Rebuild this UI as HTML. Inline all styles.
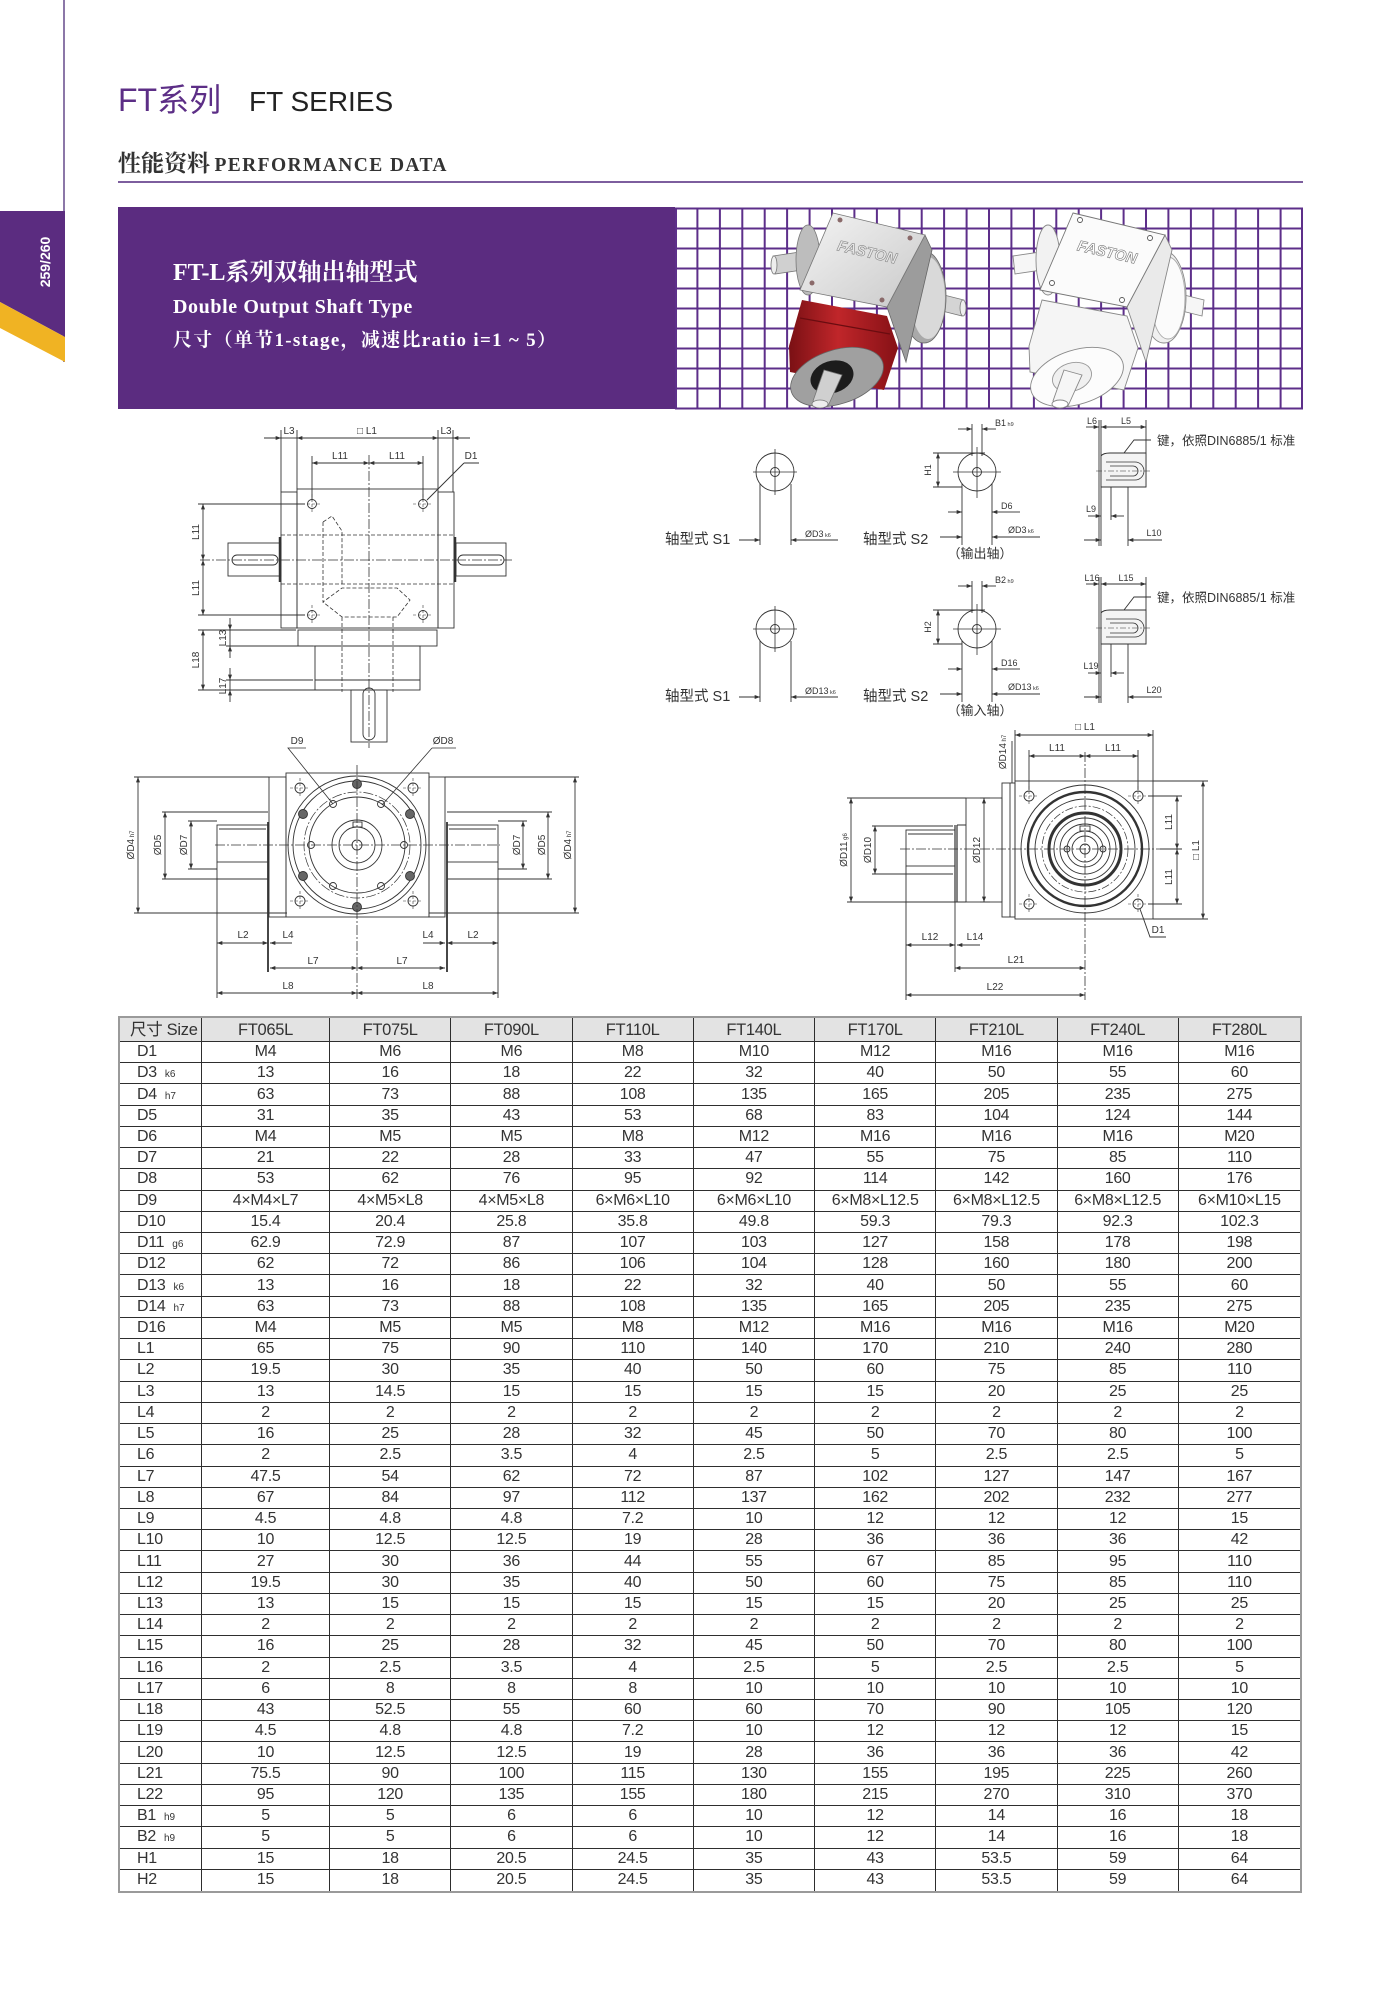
<!DOCTYPE html>
<html><head><meta charset="utf-8">
<style>
html,body{margin:0;padding:0;background:#fff;}
body{width:1400px;height:1992px;position:relative;overflow:hidden;font-family:"Liberation Sans","Noto Sans CJK SC",sans-serif;}
.abs{position:absolute;}
#t{position:absolute;left:118px;top:1016px;width:1184px;height:877px;box-sizing:border-box;border:2px solid #9a9a9a;display:grid;grid-template-columns:82px 128px repeat(8,1fr);grid-template-rows:24px repeat(40,1fr);}
#t div{box-sizing:border-box;border-right:1px solid #2e2e2e;border-bottom:1px solid #2e2e2e;display:flex;align-items:center;justify-content:center;font-size:16px;line-height:16px;color:#333;white-space:nowrap;letter-spacing:-0.3px;font-family:"Liberation Sans","Noto Sans CJK SC",sans-serif;}
#t div:nth-child(10n){border-right:none;}
#t div:nth-last-child(-n+10){border-bottom:none;}
#t div.l{justify-content:flex-start;padding-left:17px;}
#t div.h{background:#e3e3e3;font-size:16.5px;}
#t div.h.l{padding-left:10px;}
#t small{font-size:10px;margin-left:8px;margin-top:4px;letter-spacing:0;}
</style></head><body>

<!-- left vertical line and tab -->
<div class="abs" style="left:63px;top:0;width:2px;height:362px;background:#8c77a8;"></div>
<svg class="abs" style="left:0;top:0" width="70" height="370">
<polygon points="0,211 65,211 65,337 0,302" fill="#5b2c80"/>
<polygon points="0,302 65,337 65,362 0,328" fill="#f0b323"/>
<text transform="translate(50,262) rotate(-90)" text-anchor="middle" font-family="Liberation Sans, sans-serif" font-weight="bold" font-size="14" fill="#fff">259/260</text>
</svg>

<!-- header -->
<div class="abs" style="left:118px;top:80px;font-size:32px;line-height:40px;color:#5c2e86;font-family:'Liberation Sans','Noto Sans CJK SC',sans-serif;">FT系列</div>
<div class="abs" style="left:249px;top:84px;font-size:28px;line-height:36px;color:#222;font-family:'Liberation Sans',sans-serif;">FT SERIES</div>
<div class="abs" style="left:118px;top:148px;line-height:28px;color:#333;white-space:nowrap;"><span style="font-family:'Noto Serif CJK SC','Noto Sans CJK SC',serif;font-weight:bold;font-size:23px;">性能资料</span> <span style="font-family:'Liberation Serif',serif;font-weight:bold;font-size:19.5px;letter-spacing:1.4px;">PERFORMANCE DATA</span></div>
<div class="abs" style="left:118px;top:181px;width:1185px;height:2px;background:#7d5e9e;"></div>

<!-- banner -->
<div class="abs" style="left:118px;top:207px;width:557px;height:202px;background:#5b2c80;"></div>
<div class="abs" style="left:173px;top:258px;color:#fff;font-family:'Liberation Serif','Noto Serif CJK SC',serif;font-weight:bold;font-size:24px;line-height:30px;white-space:nowrap;">FT-L系列双轴出轴型式</div>
<div class="abs" style="left:173px;top:295px;color:#fff;font-family:'Liberation Serif',serif;font-weight:bold;font-size:20px;letter-spacing:0.6px;line-height:24px;white-space:nowrap;">Double Output Shaft Type</div>
<div class="abs" style="left:173px;top:329px;color:#fff;font-family:'Liberation Serif','Noto Serif CJK SC',serif;font-weight:bold;font-size:19px;letter-spacing:1.3px;line-height:24px;white-space:nowrap;">尺寸（单节1-stage，减速比ratio i=1 ~ 5）</div>

<svg class="abs" style="left:0;top:0" width="1400" height="1010" viewBox="0 0 1400 1010">
<defs>
<marker id="a" viewBox="0 0 8 6" refX="8" refY="3" markerWidth="7" markerHeight="4" markerUnits="userSpaceOnUse" orient="auto-start-reverse"><path d="M0,0L8,3L0,6z" fill="#333"/></marker>
<linearGradient id="gf" x1="0" y1="0" x2="1" y2="1"><stop offset="0" stop-color="#f4f4f4"/><stop offset="1" stop-color="#c9c9c9"/></linearGradient>
<linearGradient id="rd" x1="0" y1="0" x2="1" y2="0"><stop offset="0" stop-color="#7a1014"/><stop offset="0.45" stop-color="#c0262a"/><stop offset="1" stop-color="#861116"/></linearGradient>
</defs>

<!-- grid -->
<rect x="675" y="208" width="628" height="201" fill="#fff"/>
<g stroke="#5d2f8a" stroke-width="2" fill="none">
<path d="M675,208.5H1303M675,228.5H1303M675,248.5H1303M675,268.5H1303M675,288.5H1303M675,308.5H1303M675,328.5H1303M675,348.5H1303M675,368.5H1303M675,388.5H1303M675,408.5H1303"/>
<path d="M676,208V409M697.4,208V409M719.9,208V409M742.3,208V409M764.7,208V409M787.1,208V409M809.6,208V409M832,208V409M854.4,208V409M876.9,208V409M899.3,208V409M921.7,208V409M944.1,208V409M966.6,208V409M989,208V409M1011.4,208V409M1033.9,208V409M1056.3,208V409M1078.7,208V409M1101.1,208V409M1123.6,208V409M1146,208V409M1168.4,208V409M1190.9,208V409M1213.3,208V409M1235.7,208V409M1258.1,208V409M1280.6,208V409M1302,208V409"/>
</g>

<!-- red gearbox -->
<g stroke-width="0.8">
<polygon points="928,291 964,300 962,316 926,307" fill="#d4d4d4" stroke="#777"/>
<ellipse cx="963" cy="308" rx="3" ry="8" fill="#eee" stroke="#777"/>
<ellipse cx="924" cy="297" rx="22" ry="46" fill="#a9a9a9" stroke="#666"/>
<ellipse cx="928" cy="298" rx="17" ry="41" fill="#d9d9d9"/>
<polygon points="773,256 800,252 802,270 775,274" fill="#d0d0d0" stroke="#777"/>
<ellipse cx="774" cy="265" rx="3" ry="9" fill="#eee" stroke="#777"/>
<ellipse cx="808" cy="260" rx="12" ry="35" fill="#bdbdbd" stroke="#777"/>
<polygon points="925,235 932,250 906,362 887,307" fill="#9c9c9c" stroke="#666"/>
<polygon points="833,213 925,235 887,307 800,290" fill="url(#gf)" stroke="#777"/>
<text transform="translate(866,257) rotate(13)" text-anchor="middle" font-family="Liberation Sans, sans-serif" font-weight="bold" font-style="italic" font-size="15" fill="#e8e8e8" stroke="#888" stroke-width="0.6">FASTON</text>
<circle cx="840" cy="220" r="2.5" fill="#8a6a6a"/><circle cx="910" cy="238" r="2.5" fill="#8a6a6a"/><circle cx="812" cy="283" r="2.5" fill="#8a6a6a"/><circle cx="882" cy="300" r="2.5" fill="#8a6a6a"/>
<path d="M802,300 L887,316 L898,348 L884,390 L790,372 L789,346 Z" fill="url(#rd)"/>
<path d="M800,318 L890,334" stroke="#6a0c10" stroke-width="1.2" fill="none"/>
<ellipse cx="837" cy="377" rx="48" ry="27" transform="rotate(-18 837 377)" fill="#a0a0a0" stroke="#666"/>
<ellipse cx="832" cy="377" rx="22" ry="16" transform="rotate(-18 832 377)" fill="#1c1c1c"/>
<polygon points="824,370 842,375 828,406 813,401" fill="#d0d0d0" stroke="#777"/>
<ellipse cx="820" cy="404" rx="8" ry="4" fill="#eee" stroke="#777"/>
</g>
<!-- white gearbox -->
<g stroke-width="0.9" transform="translate(240,0)">
<polygon points="928,291 964,300 962,316 926,307" fill="#f6f6f6" stroke="#888"/>
<ellipse cx="924" cy="297" rx="22" ry="46" fill="#f0f0f0" stroke="#888"/>
<ellipse cx="928" cy="298" rx="17" ry="41" fill="#fbfbfb" stroke="#aaa"/>
<polygon points="773,256 800,252 802,270 775,274" fill="#f6f6f6" stroke="#888"/>
<ellipse cx="808" cy="260" rx="12" ry="35" fill="#f2f2f2" stroke="#888"/>
<polygon points="925,235 932,250 906,362 887,307" fill="#eaeaea" stroke="#888"/>
<polygon points="833,213 925,235 887,307 800,290" fill="#fbfbfb" stroke="#777"/>
<text transform="translate(866,257) rotate(13)" text-anchor="middle" font-family="Liberation Sans, sans-serif" font-weight="bold" font-style="italic" font-size="15" fill="#fff" stroke="#777" stroke-width="0.6">FASTON</text>
<circle cx="840" cy="220" r="2.5" fill="#fff" stroke="#555"/><circle cx="910" cy="238" r="2.5" fill="#fff" stroke="#555"/><circle cx="812" cy="283" r="2.5" fill="#fff" stroke="#555"/><circle cx="882" cy="300" r="2.5" fill="#fff" stroke="#555"/>
<path d="M802,300 L887,316 L898,348 L884,390 L790,372 L789,346 Z" fill="#f5f5f5" stroke="#888"/>
<ellipse cx="837" cy="377" rx="48" ry="27" transform="rotate(-18 837 377)" fill="#fcfcfc" stroke="#888"/>
<ellipse cx="832" cy="377" rx="20" ry="14" transform="rotate(-18 832 377)" fill="#f0f0f0" stroke="#999"/>
<polygon points="824,370 842,375 828,406 813,401" fill="#f6f6f6" stroke="#888"/>
<ellipse cx="820" cy="404" rx="8" ry="4" fill="#fff" stroke="#888"/>
</g>

<g stroke="#333" stroke-width="0.9" fill="none">
<!-- ===== top-left view ===== -->
<path d="M281,430V492M297,430V489M438,430V489M453,430V492"/>
<line x1="264" y1="438" x2="281" y2="438" marker-end="url(#a)"/>
<line x1="281" y1="438" x2="297" y2="438"/>
<line x1="297" y1="438" x2="438" y2="438" marker-start="url(#a)" marker-end="url(#a)"/>
<line x1="438" y1="438" x2="453" y2="438"/>
<line x1="470" y1="438" x2="453" y2="438" marker-end="url(#a)"/>
<path d="M312,456V500M423,456V500"/>
<line x1="312" y1="463" x2="369" y2="463" marker-start="url(#a)" marker-end="url(#a)"/>
<line x1="369" y1="463" x2="423" y2="463" marker-start="url(#a)" marker-end="url(#a)"/>
<path d="M464,463H479M464,463L427,500"/>
<rect x="297" y="489" width="141" height="139"/>
<rect x="281" y="492" width="16" height="136"/>
<rect x="438" y="492" width="16" height="136"/>
<path d="M280,537V582M455,537V582" stroke-width="2.5"/>
<rect x="228" y="543" width="53" height="33"/>
<rect x="456" y="543" width="50" height="33"/>
<rect x="232" y="555" width="46" height="10" rx="5"/>
<rect x="458" y="555" width="46" height="10" rx="5"/>
<path d="M200,560H512M369,455V748" stroke-dasharray="10 2 2 2" stroke-width="0.8"/>
<path d="M281,535H454M281,584H454M323,522L332,516L342,531V584M323,522V602L342,588H397L410,600L397,617H342L323,602M342,617V692M393,617V692" stroke-dasharray="4 2" stroke-width="0.8"/>
<circle cx="312" cy="504" r="4.5"/><circle cx="423" cy="504" r="4.5"/><circle cx="312" cy="615" r="4.5"/><circle cx="423" cy="615" r="4.5"/>
<path d="M302,504H322M312,494V514M413,504H433M423,494V514M302,615H322M312,605V625M413,615H433M423,605V625" stroke-width="0.6" stroke-dasharray="3 2"/>
<rect x="298" y="630" width="139" height="16"/>
<rect x="315" y="646" width="105" height="44"/>
<path d="M315,680H420"/>
<rect x="351" y="690" width="36" height="52"/>
<rect x="363" y="688" width="12" height="52" rx="6"/>
<path d="M198,504H305M198,615H305M198,630H296M226,646H313M226,680H313M198,690H340"/>
<line x1="203" y1="504" x2="203" y2="560" marker-start="url(#a)" marker-end="url(#a)"/>
<line x1="203" y1="560" x2="203" y2="615" marker-start="url(#a)" marker-end="url(#a)"/>
<line x1="203" y1="630" x2="203" y2="690" marker-start="url(#a)" marker-end="url(#a)"/>
<line x1="230" y1="618" x2="230" y2="630" marker-end="url(#a)"/>
<line x1="230" y1="630" x2="230" y2="646"/>
<line x1="230" y1="658" x2="230" y2="646" marker-end="url(#a)"/>
<line x1="230" y1="668" x2="230" y2="680" marker-end="url(#a)"/>
<line x1="230" y1="680" x2="230" y2="690"/>
<line x1="230" y1="702" x2="230" y2="690" marker-end="url(#a)"/>

<!-- ===== bottom-left view ===== -->
<path d="M306,748H288L333,804M432,748H456M432,748L382,805" stroke-width="0.8"/>
<rect x="286" y="773" width="143" height="144"/>
<rect x="269" y="777" width="17" height="140"/>
<rect x="429" y="777" width="16" height="140"/>
<rect x="217" y="825" width="51" height="37"/>
<path d="M219,829H266M449,829H496"/>
<rect x="447" y="825" width="51" height="37"/>
<path d="M268,822V972M447,822V972" stroke-width="1.8"/>
<circle cx="357" cy="845" r="69"/>
<circle cx="357" cy="845" r="64"/>
<circle cx="357" cy="845" r="53" stroke-dasharray="10 2 2 2" stroke-width="0.7"/>
<circle cx="357" cy="845" r="48"/>
<circle cx="357" cy="845" r="25"/>
<circle cx="357" cy="845" r="18"/>
<circle cx="357" cy="845" r="5"/>
<rect x="353" y="822" width="9" height="5"/>
<g fill="#666"><circle cx="357" cy="784" r="4.5"/><circle cx="303" cy="814" r="4.5"/><circle cx="410" cy="814" r="4.5"/><circle cx="303" cy="876" r="4.5"/><circle cx="410" cy="876" r="4.5"/><circle cx="357" cy="907" r="4.5"/></g>
<circle cx="333" cy="804" r="3.5"/><circle cx="381" cy="804" r="3.5"/><circle cx="311" cy="845" r="3.5"/><circle cx="404" cy="845" r="3.5"/><circle cx="333" cy="886" r="3.5"/><circle cx="381" cy="886" r="3.5"/>
<circle cx="300" cy="788" r="5"/><circle cx="413" cy="788" r="5"/><circle cx="300" cy="901" r="5"/><circle cx="413" cy="901" r="5"/>
<path d="M290,788H310M300,778V798M403,788H423M413,778V798M290,901H310M300,891V911M403,901H423M413,891V911" stroke-width="0.6" stroke-dasharray="3 2"/>
<path d="M215,845H500M357,765V1000" stroke-dasharray="10 2 2 2" stroke-width="0.8"/>
<path d="M134,777H269M134,913H287M162,812H268M162,879H268M188,821H217M188,869H217M445,777H579M429,913H579M447,812H552M447,879H552M498,821H527M498,869H527"/>
<line x1="138" y1="777" x2="138" y2="913" marker-start="url(#a)" marker-end="url(#a)"/>
<line x1="165" y1="812" x2="165" y2="879" marker-start="url(#a)" marker-end="url(#a)"/>
<line x1="191" y1="821" x2="191" y2="869" marker-start="url(#a)" marker-end="url(#a)"/>
<line x1="575" y1="777" x2="575" y2="913" marker-start="url(#a)" marker-end="url(#a)"/>
<line x1="548" y1="812" x2="548" y2="879" marker-start="url(#a)" marker-end="url(#a)"/>
<line x1="523" y1="821" x2="523" y2="869" marker-start="url(#a)" marker-end="url(#a)"/>
<path d="M217,862V998M498,862V998"/>
<line x1="217" y1="943" x2="268" y2="943" marker-start="url(#a)" marker-end="url(#a)"/>
<line x1="292" y1="943" x2="270" y2="943" marker-end="url(#a)"/>
<line x1="423" y1="943" x2="445" y2="943" marker-end="url(#a)"/>
<line x1="447" y1="943" x2="498" y2="943" marker-start="url(#a)" marker-end="url(#a)"/>
<line x1="270" y1="968" x2="357" y2="968" marker-start="url(#a)" marker-end="url(#a)"/>
<line x1="357" y1="968" x2="445" y2="968" marker-start="url(#a)" marker-end="url(#a)"/>
<line x1="217" y1="993" x2="357" y2="993" marker-start="url(#a)" marker-end="url(#a)"/>
<line x1="357" y1="993" x2="498" y2="993" marker-start="url(#a)" marker-end="url(#a)"/>

<!-- ===== right small views (upper) ===== -->
<g>
<circle cx="775" cy="472" r="19"/><circle cx="775" cy="472" r="4.5"/>
<path d="M753,472H797M775,449V495" stroke-width="0.8"/>
<path d="M760,484V545M791,484V545"/>
<line x1="739" y1="540" x2="760" y2="540" marker-end="url(#a)"/>
<line x1="812" y1="540" x2="791" y2="540" marker-end="url(#a)"/>
<path d="M812,540H838"/>
</g>
<g>
<circle cx="977" cy="472" r="19"/><circle cx="977" cy="472" r="4.5"/>
<path d="M953,472H1001M977,447V498" stroke-width="0.8"/>
<path d="M972,424V456M982,424V456M972,453H982"/>
<line x1="958" y1="429" x2="972" y2="429" marker-end="url(#a)"/>
<line x1="996" y1="429" x2="982" y2="429" marker-end="url(#a)"/>
<path d="M933,453H985M933,487H962"/>
<line x1="938" y1="453" x2="938" y2="487" marker-start="url(#a)" marker-end="url(#a)"/>
<path d="M962,484V545M992,484V545"/>
<line x1="948" y1="512" x2="962" y2="512" marker-end="url(#a)"/>
<line x1="1006" y1="512" x2="992" y2="512" marker-end="url(#a)"/>
<path d="M1006,512H1020"/>
<line x1="940" y1="537" x2="962" y2="537" marker-end="url(#a)"/>
<line x1="1012" y1="537" x2="992" y2="537" marker-end="url(#a)"/>
<path d="M1012,537H1040"/>
</g>
<g>
<path d="M1099,420V546M1101,420V546M1146,420V487"/>
<line x1="1086" y1="427" x2="1099" y2="427" marker-end="url(#a)"/>
<line x1="1101" y1="427" x2="1146" y2="427" marker-start="url(#a)" marker-end="url(#a)"/>
<path d="M1101,456Q1103,453 1110,453H1146V487H1101Z" fill="#f4f4f4"/>
<path d="M1106,462H1135A9,9 0 0 1 1135,480H1106M1110,466H1133A5,5 0 0 1 1133,476H1110" stroke-width="0.8"/>
<path d="M1096,471H1152" stroke-dasharray="6 2 2 2" stroke-width="0.6"/>
<path d="M1124,453L1134,440H1151"/>
<path d="M1111,487V520M1128,487V546"/>
<line x1="1088" y1="516" x2="1101" y2="516" marker-end="url(#a)"/>
<line x1="1124" y1="516" x2="1111" y2="516" marker-end="url(#a)"/>
<line x1="1084" y1="540" x2="1101" y2="540" marker-end="url(#a)"/>
<line x1="1145" y1="540" x2="1128" y2="540" marker-end="url(#a)"/>
<path d="M1145,540H1162"/>
</g>
<!-- lower copies -->
<g transform="translate(0,157)">
<circle cx="775" cy="472" r="19"/><circle cx="775" cy="472" r="4.5"/>
<path d="M753,472H797M775,449V495" stroke-width="0.8"/>
<path d="M760,484V545M791,484V545"/>
<line x1="739" y1="540" x2="760" y2="540" marker-end="url(#a)"/>
<line x1="812" y1="540" x2="791" y2="540" marker-end="url(#a)"/>
<path d="M812,540H838"/>
<circle cx="977" cy="472" r="19"/><circle cx="977" cy="472" r="4.5"/>
<path d="M953,472H1001M977,447V498" stroke-width="0.8"/>
<path d="M972,424V456M982,424V456M972,453H982"/>
<line x1="958" y1="429" x2="972" y2="429" marker-end="url(#a)"/>
<line x1="996" y1="429" x2="982" y2="429" marker-end="url(#a)"/>
<path d="M933,453H985M933,487H962"/>
<line x1="938" y1="453" x2="938" y2="487" marker-start="url(#a)" marker-end="url(#a)"/>
<path d="M962,484V545M992,484V545"/>
<line x1="948" y1="512" x2="962" y2="512" marker-end="url(#a)"/>
<line x1="1006" y1="512" x2="992" y2="512" marker-end="url(#a)"/>
<path d="M1006,512H1020"/>
<line x1="940" y1="537" x2="962" y2="537" marker-end="url(#a)"/>
<line x1="1012" y1="537" x2="992" y2="537" marker-end="url(#a)"/>
<path d="M1012,537H1040"/>
<path d="M1099,420V546M1101,420V546M1146,420V487"/>
<line x1="1086" y1="427" x2="1099" y2="427" marker-end="url(#a)"/>
<line x1="1101" y1="427" x2="1146" y2="427" marker-start="url(#a)" marker-end="url(#a)"/>
<path d="M1101,456Q1103,453 1110,453H1146V487H1101Z" fill="#f4f4f4"/>
<path d="M1106,462H1135A9,9 0 0 1 1135,480H1106M1110,466H1133A5,5 0 0 1 1133,476H1110" stroke-width="0.8"/>
<path d="M1096,471H1152" stroke-dasharray="6 2 2 2" stroke-width="0.6"/>
<path d="M1124,453L1134,440H1151"/>
<path d="M1111,487V520M1128,487V546"/>
<line x1="1088" y1="516" x2="1101" y2="516" marker-end="url(#a)"/>
<line x1="1124" y1="516" x2="1111" y2="516" marker-end="url(#a)"/>
<line x1="1084" y1="540" x2="1101" y2="540" marker-end="url(#a)"/>
<line x1="1145" y1="540" x2="1128" y2="540" marker-end="url(#a)"/>
<path d="M1145,540H1162"/>
</g>

<!-- ===== bottom-right view ===== -->
<rect x="1015" y="781" width="138" height="138"/>
<rect x="1002" y="783" width="13" height="134"/>
<path d="M1010,783V917"/>
<rect x="966" y="798" width="36" height="104"/>
<path d="M955,825V902M957,825V902" stroke-width="1.2"/>
<path d="M957,825H966M957,902H966"/>
<rect x="906" y="830" width="49" height="36"/>
<path d="M908,834H953"/>
<circle cx="1085" cy="849" r="64"/>
<circle cx="1085" cy="849" r="57" stroke-width="2.4"/>
<circle cx="1085" cy="849" r="50"/>
<circle cx="1085" cy="849" r="43" stroke-dasharray="8 2 2 2" stroke-width="0.7"/>
<circle cx="1085" cy="849" r="36" stroke-width="3"/>
<circle cx="1085" cy="849" r="31"/>
<circle cx="1085" cy="849" r="25"/>
<circle cx="1085" cy="849" r="18"/>
<circle cx="1085" cy="849" r="13"/>
<circle cx="1085" cy="849" r="5"/>
<rect x="1080" y="826" width="10" height="5"/>
<circle cx="1067" cy="849" r="3"/><circle cx="1103" cy="849" r="3"/>
<circle cx="1029" cy="796" r="5"/><circle cx="1138" cy="796" r="5"/><circle cx="1029" cy="904" r="5"/><circle cx="1138" cy="904" r="5"/>
<path d="M1019,796H1039M1029,786V806M1128,796H1148M1138,786V806M1019,904H1039M1029,894V914M1128,904H1148M1138,894V914" stroke-width="0.6" stroke-dasharray="3 2"/>
<path d="M900,849H1165M1085,752V1000" stroke-dasharray="10 2 2 2" stroke-width="0.8"/>
<path d="M1015,730V781M1153,730V781M1029,750V790M1138,750V790M1012,741V783"/>
<line x1="1015" y1="735" x2="1153" y2="735" marker-start="url(#a)" marker-end="url(#a)"/>
<line x1="1029" y1="756" x2="1085" y2="756" marker-start="url(#a)" marker-end="url(#a)"/>
<line x1="1085" y1="756" x2="1138" y2="756" marker-start="url(#a)" marker-end="url(#a)"/>
<path d="M1148,796H1182M1148,904H1182M1153,781H1208M1153,919H1208M1160,849H1182"/>
<line x1="1177" y1="796" x2="1177" y2="849" marker-start="url(#a)" marker-end="url(#a)"/>
<line x1="1177" y1="849" x2="1177" y2="904" marker-start="url(#a)" marker-end="url(#a)"/>
<line x1="1203" y1="781" x2="1203" y2="919" marker-start="url(#a)" marker-end="url(#a)"/>
<path d="M847,798H966M847,902H966M872,826H953M872,874H953M980,798H990M980,902H990"/>
<line x1="851" y1="798" x2="851" y2="902" marker-start="url(#a)" marker-end="url(#a)"/>
<line x1="875" y1="826" x2="875" y2="874" marker-start="url(#a)" marker-end="url(#a)"/>
<line x1="984" y1="798" x2="984" y2="902" marker-start="url(#a)" marker-end="url(#a)"/>
<path d="M906,866V1000M955,902V972"/>
<line x1="906" y1="945" x2="955" y2="945" marker-start="url(#a)" marker-end="url(#a)"/>
<line x1="980" y1="945" x2="957" y2="945" marker-end="url(#a)"/>
<line x1="955" y1="968" x2="1085" y2="968" marker-start="url(#a)" marker-end="url(#a)"/>
<line x1="906" y1="995" x2="1085" y2="995" marker-start="url(#a)" marker-end="url(#a)"/>
<path d="M1140,909L1150,937H1166"/>
</g>

<!-- drawing labels -->
<g font-family="Liberation Sans, DejaVu Sans, sans-serif" font-size="10" fill="#333">
<text x="289" y="434" text-anchor="middle">L3</text>
<text x="367" y="434" text-anchor="middle">□ L1</text>
<text x="446" y="434" text-anchor="middle">L3</text>
<text x="340" y="459" text-anchor="middle">L11</text>
<text x="397" y="459" text-anchor="middle">L11</text>
<text x="471" y="459" text-anchor="middle">D1</text>
<text transform="translate(199,532) rotate(-90)" text-anchor="middle">L11</text>
<text transform="translate(199,588) rotate(-90)" text-anchor="middle">L11</text>
<text transform="translate(226,638) rotate(-90)" text-anchor="middle">L13</text>
<text transform="translate(199,660) rotate(-90)" text-anchor="middle">L18</text>
<text transform="translate(226,686) rotate(-90)" text-anchor="middle">L17</text>
<text x="297" y="744" text-anchor="middle">D9</text>
<text x="443" y="744" text-anchor="middle">ØD8</text>
<text transform="translate(134,845) rotate(-90)" text-anchor="middle">ØD4<tspan font-size="6"> h7</tspan></text>
<text transform="translate(161,845) rotate(-90)" text-anchor="middle">ØD5</text>
<text transform="translate(187,845) rotate(-90)" text-anchor="middle">ØD7</text>
<text transform="translate(520,845) rotate(-90)" text-anchor="middle">ØD7</text>
<text transform="translate(545,845) rotate(-90)" text-anchor="middle">ØD5</text>
<text transform="translate(571,845) rotate(-90)" text-anchor="middle">ØD4<tspan font-size="6"> h7</tspan></text>
<text x="243" y="938" text-anchor="middle">L2</text>
<text x="288" y="938" text-anchor="middle">L4</text>
<text x="428" y="938" text-anchor="middle">L4</text>
<text x="473" y="938" text-anchor="middle">L2</text>
<text x="313" y="964" text-anchor="middle">L7</text>
<text x="402" y="964" text-anchor="middle">L7</text>
<text x="288" y="989" text-anchor="middle">L8</text>
<text x="428" y="989" text-anchor="middle">L8</text>

<text x="805" y="537" font-size="9">ØD3<tspan font-size="5.5"> k6</tspan></text>
<text x="995" y="426" font-size="9">B1<tspan font-size="5.5"> h9</tspan></text>
<text transform="translate(931,470) rotate(-90)" text-anchor="middle" font-size="9">H1</text>
<text x="1001" y="509" font-size="9">D6</text>
<text x="1008" y="533" font-size="9">ØD3<tspan font-size="5.5"> k6</tspan></text>
<text x="1092" y="424" text-anchor="middle" font-size="9">L6</text>
<text x="1126" y="424" text-anchor="middle" font-size="9">L5</text>
<text x="1091" y="512" text-anchor="middle" font-size="9">L9</text>
<text x="1154" y="536" text-anchor="middle" font-size="9">L10</text>

<text x="805" y="694" font-size="9">ØD13<tspan font-size="5.5"> k6</tspan></text>
<text x="995" y="583" font-size="9">B2<tspan font-size="5.5"> h9</tspan></text>
<text transform="translate(931,627) rotate(-90)" text-anchor="middle" font-size="9">H2</text>
<text x="1001" y="666" font-size="9">D16</text>
<text x="1008" y="690" font-size="9">ØD13<tspan font-size="5.5"> k6</tspan></text>
<text x="1092" y="581" text-anchor="middle" font-size="9">L16</text>
<text x="1126" y="581" text-anchor="middle" font-size="9">L15</text>
<text x="1091" y="669" text-anchor="middle" font-size="9">L19</text>
<text x="1154" y="693" text-anchor="middle" font-size="9">L20</text>

<text x="1085" y="730" text-anchor="middle">□ L1</text>
<text x="1057" y="751" text-anchor="middle">L11</text>
<text x="1113" y="751" text-anchor="middle">L11</text>
<text transform="translate(1006,752) rotate(-90)" text-anchor="middle">ØD14<tspan font-size="6"> h7</tspan></text>
<text transform="translate(1172,822) rotate(-90)" text-anchor="middle">L11</text>
<text transform="translate(1172,877) rotate(-90)" text-anchor="middle">L11</text>
<text transform="translate(1199,850) rotate(-90)" text-anchor="middle">□ L1</text>
<text transform="translate(847,850) rotate(-90)" text-anchor="middle">ØD11<tspan font-size="6"> g6</tspan></text>
<text transform="translate(871,850) rotate(-90)" text-anchor="middle">ØD10</text>
<text transform="translate(980,850) rotate(-90)" text-anchor="middle">ØD12</text>
<text x="930" y="940" text-anchor="middle">L12</text>
<text x="975" y="940" text-anchor="middle">L14</text>
<text x="1016" y="963" text-anchor="middle">L21</text>
<text x="995" y="990" text-anchor="middle">L22</text>
<text x="1158" y="933" text-anchor="middle">D1</text>
</g>
<g font-family="Liberation Sans, Noto Sans CJK SC, sans-serif" fill="#333">
<text x="665" y="544" font-size="14.5">轴型式 S1</text>
<text x="863" y="544" font-size="14.5">轴型式 S2</text>
<text x="980" y="558" font-size="13" text-anchor="middle">（输出轴）</text>
<text x="1157" y="445" font-size="12.5">键，依照DIN6885/1 标准</text>
<text x="665" y="701" font-size="14.5">轴型式 S1</text>
<text x="863" y="701" font-size="14.5">轴型式 S2</text>
<text x="980" y="715" font-size="13" text-anchor="middle">（输入轴）</text>
<text x="1157" y="602" font-size="12.5">键，依照DIN6885/1 标准</text>
</g>
</svg>

<!-- table -->
<div id="t">
<div class="h l">尺寸 Size</div><div class="h">FT065L</div><div class="h">FT075L</div><div class="h">FT090L</div><div class="h">FT110L</div><div class="h">FT140L</div><div class="h">FT170L</div><div class="h">FT210L</div><div class="h">FT240L</div><div class="h">FT280L</div>
<div class="l">D1</div><div>M4</div><div>M6</div><div>M6</div><div>M8</div><div>M10</div><div>M12</div><div>M16</div><div>M16</div><div>M16</div>
<div class="l">D3<small>k6</small></div><div>13</div><div>16</div><div>18</div><div>22</div><div>32</div><div>40</div><div>50</div><div>55</div><div>60</div>
<div class="l">D4<small>h7</small></div><div>63</div><div>73</div><div>88</div><div>108</div><div>135</div><div>165</div><div>205</div><div>235</div><div>275</div>
<div class="l">D5</div><div>31</div><div>35</div><div>43</div><div>53</div><div>68</div><div>83</div><div>104</div><div>124</div><div>144</div>
<div class="l">D6</div><div>M4</div><div>M5</div><div>M5</div><div>M8</div><div>M12</div><div>M16</div><div>M16</div><div>M16</div><div>M20</div>
<div class="l">D7</div><div>21</div><div>22</div><div>28</div><div>33</div><div>47</div><div>55</div><div>75</div><div>85</div><div>110</div>
<div class="l">D8</div><div>53</div><div>62</div><div>76</div><div>95</div><div>92</div><div>114</div><div>142</div><div>160</div><div>176</div>
<div class="l">D9</div><div>4×M4×L7</div><div>4×M5×L8</div><div>4×M5×L8</div><div>6×M6×L10</div><div>6×M6×L10</div><div>6×M8×L12.5</div><div>6×M8×L12.5</div><div>6×M8×L12.5</div><div>6×M10×L15</div>
<div class="l">D10</div><div>15.4</div><div>20.4</div><div>25.8</div><div>35.8</div><div>49.8</div><div>59.3</div><div>79.3</div><div>92.3</div><div>102.3</div>
<div class="l">D11<small>g6</small></div><div>62.9</div><div>72.9</div><div>87</div><div>107</div><div>103</div><div>127</div><div>158</div><div>178</div><div>198</div>
<div class="l">D12</div><div>62</div><div>72</div><div>86</div><div>106</div><div>104</div><div>128</div><div>160</div><div>180</div><div>200</div>
<div class="l">D13<small>k6</small></div><div>13</div><div>16</div><div>18</div><div>22</div><div>32</div><div>40</div><div>50</div><div>55</div><div>60</div>
<div class="l">D14<small>h7</small></div><div>63</div><div>73</div><div>88</div><div>108</div><div>135</div><div>165</div><div>205</div><div>235</div><div>275</div>
<div class="l">D16</div><div>M4</div><div>M5</div><div>M5</div><div>M8</div><div>M12</div><div>M16</div><div>M16</div><div>M16</div><div>M20</div>
<div class="l">L1</div><div>65</div><div>75</div><div>90</div><div>110</div><div>140</div><div>170</div><div>210</div><div>240</div><div>280</div>
<div class="l">L2</div><div>19.5</div><div>30</div><div>35</div><div>40</div><div>50</div><div>60</div><div>75</div><div>85</div><div>110</div>
<div class="l">L3</div><div>13</div><div>14.5</div><div>15</div><div>15</div><div>15</div><div>15</div><div>20</div><div>25</div><div>25</div>
<div class="l">L4</div><div>2</div><div>2</div><div>2</div><div>2</div><div>2</div><div>2</div><div>2</div><div>2</div><div>2</div>
<div class="l">L5</div><div>16</div><div>25</div><div>28</div><div>32</div><div>45</div><div>50</div><div>70</div><div>80</div><div>100</div>
<div class="l">L6</div><div>2</div><div>2.5</div><div>3.5</div><div>4</div><div>2.5</div><div>5</div><div>2.5</div><div>2.5</div><div>5</div>
<div class="l">L7</div><div>47.5</div><div>54</div><div>62</div><div>72</div><div>87</div><div>102</div><div>127</div><div>147</div><div>167</div>
<div class="l">L8</div><div>67</div><div>84</div><div>97</div><div>112</div><div>137</div><div>162</div><div>202</div><div>232</div><div>277</div>
<div class="l">L9</div><div>4.5</div><div>4.8</div><div>4.8</div><div>7.2</div><div>10</div><div>12</div><div>12</div><div>12</div><div>15</div>
<div class="l">L10</div><div>10</div><div>12.5</div><div>12.5</div><div>19</div><div>28</div><div>36</div><div>36</div><div>36</div><div>42</div>
<div class="l">L11</div><div>27</div><div>30</div><div>36</div><div>44</div><div>55</div><div>67</div><div>85</div><div>95</div><div>110</div>
<div class="l">L12</div><div>19.5</div><div>30</div><div>35</div><div>40</div><div>50</div><div>60</div><div>75</div><div>85</div><div>110</div>
<div class="l">L13</div><div>13</div><div>15</div><div>15</div><div>15</div><div>15</div><div>15</div><div>20</div><div>25</div><div>25</div>
<div class="l">L14</div><div>2</div><div>2</div><div>2</div><div>2</div><div>2</div><div>2</div><div>2</div><div>2</div><div>2</div>
<div class="l">L15</div><div>16</div><div>25</div><div>28</div><div>32</div><div>45</div><div>50</div><div>70</div><div>80</div><div>100</div>
<div class="l">L16</div><div>2</div><div>2.5</div><div>3.5</div><div>4</div><div>2.5</div><div>5</div><div>2.5</div><div>2.5</div><div>5</div>
<div class="l">L17</div><div>6</div><div>8</div><div>8</div><div>8</div><div>10</div><div>10</div><div>10</div><div>10</div><div>10</div>
<div class="l">L18</div><div>43</div><div>52.5</div><div>55</div><div>60</div><div>60</div><div>70</div><div>90</div><div>105</div><div>120</div>
<div class="l">L19</div><div>4.5</div><div>4.8</div><div>4.8</div><div>7.2</div><div>10</div><div>12</div><div>12</div><div>12</div><div>15</div>
<div class="l">L20</div><div>10</div><div>12.5</div><div>12.5</div><div>19</div><div>28</div><div>36</div><div>36</div><div>36</div><div>42</div>
<div class="l">L21</div><div>75.5</div><div>90</div><div>100</div><div>115</div><div>130</div><div>155</div><div>195</div><div>225</div><div>260</div>
<div class="l">L22</div><div>95</div><div>120</div><div>135</div><div>155</div><div>180</div><div>215</div><div>270</div><div>310</div><div>370</div>
<div class="l">B1<small>h9</small></div><div>5</div><div>5</div><div>6</div><div>6</div><div>10</div><div>12</div><div>14</div><div>16</div><div>18</div>
<div class="l">B2<small>h9</small></div><div>5</div><div>5</div><div>6</div><div>6</div><div>10</div><div>12</div><div>14</div><div>16</div><div>18</div>
<div class="l">H1</div><div>15</div><div>18</div><div>20.5</div><div>24.5</div><div>35</div><div>43</div><div>53.5</div><div>59</div><div>64</div>
<div class="l">H2</div><div>15</div><div>18</div><div>20.5</div><div>24.5</div><div>35</div><div>43</div><div>53.5</div><div>59</div><div>64</div>
</div>

</body></html>
